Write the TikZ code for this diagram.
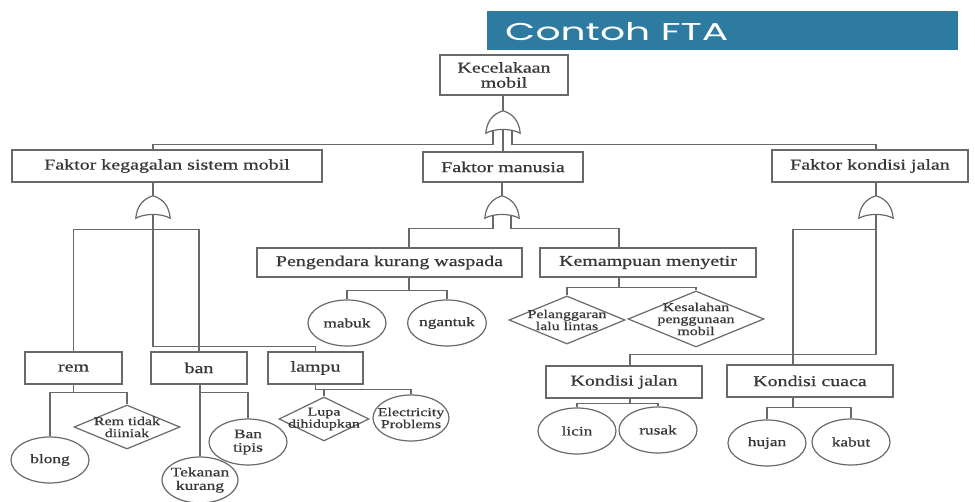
\documentclass[tikz,border=0pt]{standalone}
\usepackage{fontspec}
\setmainfont{Liberation Serif}[FakeStretch=1.33,FakeBold=0.7]
\newfontfamily\titlefont{Poppins}
\usetikzlibrary{shapes.geometric,calc}
\definecolor{barblue}{RGB}{46,123,161}
\definecolor{ink}{RGB}{55,55,55}
\definecolor{wire}{RGB}{105,105,105}
% zero-width line so a label never enlarges its shape
\newcommand\zw[1]{\makebox[0pt]{#1}}

\begin{document}
\begin{tikzpicture}[x=1pt,y=-1pt,
  every node/.style={text=ink, inner sep=0pt},
  box/.style={draw=wire, line width=1.3pt, rectangle, minimum height=32pt, align=center,
              font=\fontsize{15}{15}\selectfont},
  ell/.style={draw=wire, line width=1.2pt, ellipse, minimum width=78pt, minimum height=46pt,
              align=center, font=\fontsize{13}{13.5}\selectfont},
  dia/.style={draw=wire, line width=1.2pt, diamond, align=center,
              font=\fontsize{12}{12}\selectfont},
  gate/.style={rectangle, minimum width=34pt, minimum height=22pt},
  wirel/.style={draw=wire, line width=1.2pt}
]
\useasboundingbox (0,0) rectangle (975,502);
\fill[white] (0,0) rectangle (975,502);

% heading bar
\node[fill=barblue, minimum width=471pt, minimum height=39pt, anchor=north west] (title) at (487,11) {};
\node[anchor=base west, text=white] (titletext) at (505,41) {\resizebox{223pt}{18pt}{\titlefont Contoh FTA}};

% events
\node[box, minimum width=128pt, minimum height=40pt] (k0) at (504,75) {Kecelakaan\\mobil};
\node[box, minimum width=310pt] (f1) at (167,166) {Faktor kegagalan sistem mobil};
\node[box, minimum width=160pt, minimum height=30pt] (f2) at (503,167) {Faktor manusia};
\node[box, minimum width=196pt] (f3) at (870,166) {Faktor kondisi jalan};
\node[box, minimum width=265pt, minimum height=29pt] (p1) at (389.5,262.5) {Pengendara kurang waspada};
\node[box, minimum width=216pt, minimum height=29pt] (p2) at (648,262.5) {Kemampuan menyetir};
\node[box, minimum width=97pt] (rem) at (73.5,368) {rem};
\node[box, minimum width=96pt] (ban) at (199,368) {ban};
\node[box, minimum width=95pt] (lampu) at (315.5,368) {lampu};
\node[box, minimum width=156pt] (kj) at (624,382) {Kondisi jalan};
\node[box, minimum width=166pt] (kc) at (810,381) {Kondisi cuaca};

% basic events
\node[ell] (e1) at (50,460) {blong};
\node[ell] (e2) at (248,442) {\zw{Ban}\\\zw{tipis}};
\node[ell, minimum width=76pt] (e3) at (200,480) {\zw{Tekanan}\\\zw{kurang}};
\node[ell, minimum width=76pt, font=\fontsize{12}{12}\selectfont] (e4) at (411,418) {\zw{Electricity}\\\zw{Problems}};
\node[ell] (e5) at (347,323) {mabuk};
\node[ell] (e6) at (447,323) {ngantuk};
\node[ell] (e7) at (577,431) {licin};
\node[ell] (e8) at (658,430) {rusak};
\node[ell] (e9) at (767,443) {hujan};
\node[ell] (e10) at (851,442) {kabut};

% undeveloped events
\node[dia, minimum width=106pt, minimum height=44pt] (d1) at (127,427) {\zw{Rem tidak}\\\zw{diiniak}};
\node[dia, minimum width=116pt, minimum height=48pt] (d2) at (567,320) {\zw{Pelanggaran}\\\zw{lalu lintas}};
\node[dia, minimum width=136pt, minimum height=56pt] (d3) at (696,319) {\zw{Kesalahan}\\\zw{penggunaan}\\\zw{mobil}};
\node[dia, minimum width=90pt, minimum height=44pt] (d4) at (324,419) {\zw{Lupa}\\\zw{dihidupkan}};

% OR gates
\node[gate] (g0) at (503,122) {};
\node[gate] (g1) at (153,207) {};
\node[gate] (g2) at (502,207) {};
\node[gate] (g3) at (876,207) {};
\foreach \g in {g0,g1,g2,g3}{
  \draw[wirel, fill=white] (\g.south west)
    .. controls ($(\g.south west)+(1,-12)$) and ($(\g.north)+(-10,3)$) .. (\g.north)
    .. controls ($(\g.north)+(10,3)$) and ($(\g.south east)+(-1,-12)$) .. (\g.south east)
    .. controls ($(\g.south)+(8,-5)$) and ($(\g.south)+(-8,-5)$) .. (\g.south west) -- cycle;
}

% guide columns for wires that leave a box off-centre
\coordinate (c1) at (409,0);
\coordinate (c2) at (619,0);
\coordinate (c3) at (630,0);
\coordinate (c4) at (793,0);

% top gate
\draw[wirel] (k0.south -| g0.north) -- (g0.north);
\draw[wirel] ($(g0.south)+(-10,-3)$) -- ++(0,14) -| (f1.north -| g1.north);
\draw[wirel] ($(g0.south)+(9,-3)$) -- ++(0,14) -| (f3.north -| g3.north);
\draw[wirel] ($(g0.south)+(0,-4)$) -- (f2.north -| g0.south);

% gate inputs
\draw[wirel] (f1.south -| g1.north) -- (g1.north);
\draw[wirel] (f2.south -| g2.north) -- (g2.north);
\draw[wirel] (f3.south -| g3.north) -- (g3.north);

% system failure branch
\draw[wirel] ($(g1.south)+(0,-4)$) |- ($(lampu.north)+(0,-5)$) -- (lampu.north);
\draw[wirel] (rem.north) |- ($(g1.south)+(0,11)$) -| (ban.north);

% human factor branch
\draw[wirel] ($(g2.south)+(-9,-3)$) |- ($(p1.north -| c1)+(0,-19)$) -- (p1.north -| c1);
\draw[wirel] ($(g2.south)+(9,-3)$) |- ($(p2.north -| c2)+(0,-19)$) -- (p2.north -| c2);

% road condition branch
\draw[wirel] ($(g3.south)+(0,-4)$) |- ($(kj.north -| c3)+(0,-11)$) -- (kj.north -| c3);
\draw[wirel] ($(g3.south)+(0,11)$) -| (kc.north -| c4);

% leaves
\draw[wirel] (rem.south) -- ++(0,8) coordinate (rj);
\draw[wirel] (rj) -| (e1.north);
\draw[wirel] (rj) -| (d1.north);

\draw[wirel] (ban.south -| e3.north) -- (e3.north);
\draw[wirel] ($(ban.south -| e3.north)+(0,8)$) -| (e2.north);

\draw[wirel] (lampu.south) -- ++(0,5) coordinate (lj);
\draw[wirel] (lj) -| (d4.north);
\draw[wirel] (lj) -| (e4.north);

\draw[wirel] (p1.south -| c1) -- ++(0,13) coordinate (pj);
\draw[wirel] (pj) -| (e5.north);
\draw[wirel] (pj) -| (e6.north);

\draw[wirel] (p2.south -| c2) -- ++(0,10) coordinate (mj);
\draw[wirel] (mj) -| (d2.north);
\draw[wirel] (mj) -| (d3.north);

\draw[wirel] (kj.south -| c3) -- ++(0,5) coordinate (jj);
\draw[wirel] (jj) -| (e7.north);
\draw[wirel] (jj) -| (e8.north);

\draw[wirel] (kc.south -| c4) -- ++(0,10) coordinate (cj);
\draw[wirel] (cj) -| (e9.north);
\draw[wirel] (cj) -| (e10.north);
\end{tikzpicture}
\end{document}
